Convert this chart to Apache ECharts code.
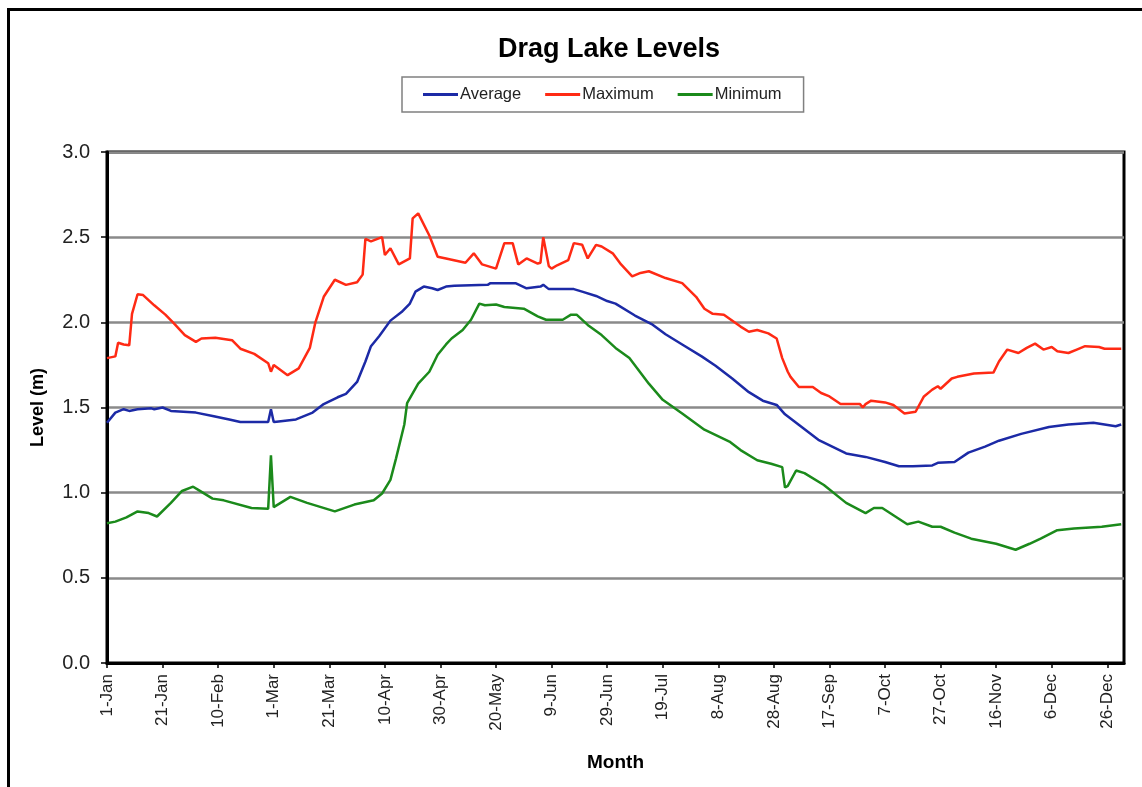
<!DOCTYPE html>
<html>
<head>
<meta charset="utf-8">
<title>Drag Lake Levels</title>
<script src="https://cdn.jsdelivr.net/npm/echarts@6/dist/echarts.min.js"></script>
<style>
  html, body { margin: 0; padding: 0; background: #fff; }
  #chart { width: 1142px; height: 787px; }
</style>
</head>
<body>
<div id="chart"></div>
<script>
// Day of year (0 = 1 January, leap year) and lake level in metres.
const averageLevels = [
  [0,1.41],[3,1.47],[6,1.49],[8,1.48],[11,1.49],[16,1.495],[17,1.49],[20,1.50],[23,1.48],
  [32,1.47],[38,1.45],[44,1.43],[48,1.415],[58,1.415],[59,1.49],[60,1.415],[61,1.417],
  [68,1.43],[74,1.47],[78,1.52],[83,1.56],[86,1.58],[90,1.65],[93,1.77],[95,1.86],[98,1.92],
  [102,2.01],[106,2.06],[109,2.11],[111,2.18],[114,2.21],[117,2.20],[119,2.19],[122,2.21],
  [125,2.215],[137,2.22],[138,2.23],[147,2.23],[151,2.20],[156,2.21],[157,2.22],[159,2.195],
  [168,2.195],[171,2.18],[176,2.155],[180,2.125],[183,2.11],[190,2.04],[196,1.99],[201,1.93],
  [207,1.87],[214,1.80],[219,1.745],[225,1.67],[231,1.59],[236,1.54],[241,1.515],[244,1.46],
  [248,1.41],[256,1.31],[261,1.27],[266,1.23],[273,1.21],[280,1.18],[285,1.155],[290,1.155],
  [297,1.16],[299,1.175],[305,1.18],[310,1.235],[316,1.27],[321,1.305],[329,1.345],[339,1.385],
  [346,1.40],[355,1.41],[363,1.39],[365,1.40]
];

const maximumLevels = [
  [0,1.79],[3,1.80],[4,1.88],[6,1.87],[8,1.865],[9,2.05],[11,2.165],[13,2.16],[17,2.10],
  [21,2.045],[24,1.995],[28,1.925],[32,1.885],[34,1.905],[39,1.91],[45,1.895],[48,1.845],
  [53,1.815],[58,1.76],[59,1.71],[60,1.75],[65,1.69],[69,1.73],[73,1.85],[75,2.00],[78,2.15],
  [82,2.25],[86,2.22],[90,2.235],[92,2.28],[93,2.49],[95,2.475],[99,2.50],[100,2.395],
  [102,2.435],[105,2.34],[109,2.375],[110,2.61],[112,2.64],[116,2.51],[119,2.385],[122,2.375],
  [129,2.35],[132,2.405],[135,2.34],[140,2.315],[143,2.465],[146,2.465],[148,2.34],[151,2.375],
  [155,2.345],[156,2.35],[157,2.50],[159,2.33],[160,2.315],[162,2.335],[166,2.365],[168,2.465],
  [171,2.455],[173,2.375],[176,2.455],[178,2.445],[182,2.405],[185,2.34],[189,2.27],[192,2.29],
  [195,2.30],[201,2.26],[207,2.23],[212,2.15],[215,2.08],[218,2.05],[222,2.045],[228,1.975],
  [231,1.945],[234,1.955],[238,1.935],[241,1.905],[243,1.79],[245,1.71],[246,1.68],[249,1.62],
  [254,1.62],[257,1.585],[260,1.565],[264,1.52],[271,1.52],[272,1.50],[273,1.52],[275,1.54],
  [280,1.53],[283,1.515],[287,1.465],[291,1.475],[294,1.565],[297,1.605],[299,1.625],[300,1.61],
  [304,1.67],[306,1.68],[312,1.70],[319,1.705],[321,1.77],[324,1.84],[328,1.82],[331,1.85],
  [334,1.875],[337,1.84],[340,1.855],[342,1.83],[346,1.82],[349,1.84],[352,1.86],[357,1.855],
  [359,1.845],[365,1.845]
];

const minimumLevels = [
  [0,0.82],[3,0.83],[7,0.855],[11,0.89],[15,0.88],[18,0.86],[23,0.94],[27,1.01],[31,1.035],
  [33,1.015],[38,0.965],[42,0.955],[52,0.91],[58,0.905],[59,1.22],[60,0.915],[66,0.975],
  [72,0.94],[82,0.89],[89,0.93],[96,0.955],[99,0.995],[102,1.075],[104,1.20],[107,1.40],
  [108,1.525],[112,1.64],[116,1.71],[119,1.81],[122,1.87],[124,1.905],[128,1.955],[131,2.015],
  [134,2.11],[136,2.10],[140,2.105],[143,2.09],[150,2.08],[155,2.035],[158,2.015],[164,2.015],
  [167,2.045],[169,2.045],[173,1.985],[178,1.925],[183,1.85],[188,1.79],[195,1.64],[200,1.545],
  [207,1.465],[215,1.37],[224,1.30],[228,1.25],[234,1.19],[239,1.17],[243,1.15],[244,1.03],
  [245,1.04],[248,1.13],[251,1.115],[258,1.045],[266,0.94],[273,0.88],[276,0.91],[279,0.91],
  [288,0.815],[292,0.83],[297,0.80],[300,0.80],[305,0.765],[311,0.73],[320,0.70],[327,0.665],
  [332,0.70],[336,0.73],[342,0.78],[348,0.79],[358,0.80],[365,0.815]
];

// Date labels shown every 20 days along the x axis.
const tickLabels = [
  '1-Jan','21-Jan','10-Feb','1-Mar','21-Mar','10-Apr','30-Apr','20-May','9-Jun','29-Jun',
  '19-Jul','8-Aug','28-Aug','17-Sep','7-Oct','27-Oct','16-Nov','6-Dec','26-Dec'
];
const tickDays = tickLabels.map((_, i) => i * 20);

const FONT = 'Liberation Sans, Arial, sans-serif';

const chart = echarts.init(document.getElementById('chart'), null, { renderer: 'canvas' });

chart.setOption({
  backgroundColor: '#ffffff',
  animation: false,
  graphic: [{
    type: 'rect',
    left: 6, top: 7,
    shape: { width: 1200, height: 900 },
    style: { fill: 'none', stroke: '#000', lineWidth: 3 },
    silent: true
  }],
  title: {
    text: 'Drag Lake Levels',
    left: 604,
    textAlign: 'center',
    top: 31,
    textStyle: { fontFamily: FONT, fontSize: 27, fontWeight: 'bold', color: '#000' }
  },
  legend: {
    left: 402,
    top: 77,
    padding: [9, 22, 9, 21],
    borderColor: '#808080',
    borderWidth: 1.5,
    itemGap: 24,
    itemWidth: 35,
    itemHeight: 3,
    icon: 'rect',
    textStyle: { fontFamily: FONT, fontSize: 16.5, color: '#222', padding: [0, 0, 0, -3] },
    data: ['Average', 'Maximum', 'Minimum']
  },
  grid: {
    left: 107, right: 18, top: 152, bottom: 124,
    show: true,
    borderColor: '#000',
    borderWidth: 3,
    containLabel: false
  },
  xAxis: {
    type: 'value',
    min: 0,
    max: 366,
    name: 'Month',
    nameLocation: 'middle',
    nameGap: 90,
    nameTextStyle: { fontFamily: FONT, fontSize: 19, fontWeight: 'bold', color: '#000' },
    axisLine: { show: true, onZero: false, lineStyle: { color: '#000', width: 3 } },
    axisTick: { show: true, length: 5, customValues: tickDays, lineStyle: { color: '#000', width: 1.5 } },
    axisLabel: {
      customValues: tickDays,
      rotate: 90,
      margin: 11,
      fontFamily: FONT,
      fontSize: 17,
      color: '#222',
      formatter: v => tickLabels[Math.round(v / 20)] || ''
    },
    splitLine: { show: false }
  },
  yAxis: {
    type: 'value',
    min: 0,
    max: 3,
    interval: 0.5,
    name: 'Level (m)',
    nameLocation: 'middle',
    nameRotate: 90,
    nameGap: 60,
    nameTextStyle: { fontFamily: FONT, fontSize: 18, fontWeight: 'bold', color: '#000' },
    axisLine: { show: true, lineStyle: { color: '#000', width: 3 } },
    axisTick: { show: true, length: 6, lineStyle: { color: '#000', width: 1.5 } },
    axisLabel: {
      margin: 17,
      fontFamily: FONT,
      fontSize: 20,
      color: '#222',
      formatter: v => v.toFixed(1)
    },
    splitLine: { show: true, lineStyle: { color: '#8a8a8a', width: 2.5 } }
  },
  series: [
    {
      name: 'Average', type: 'line', data: averageLevels,
      showSymbol: false, color: '#1c2aa6',
      lineStyle: { width: 2.5, color: '#1c2aa6' }, z: 4
    },
    {
      name: 'Maximum', type: 'line', data: maximumLevels,
      showSymbol: false, color: '#ff2a14',
      lineStyle: { width: 2.5, color: '#ff2a14' }, z: 3
    },
    {
      name: 'Minimum', type: 'line', data: minimumLevels,
      showSymbol: false, color: '#1b8a1b',
      lineStyle: { width: 2.5, color: '#1b8a1b' }, z: 2
    }
  ]
});
</script>
</body>
</html>
